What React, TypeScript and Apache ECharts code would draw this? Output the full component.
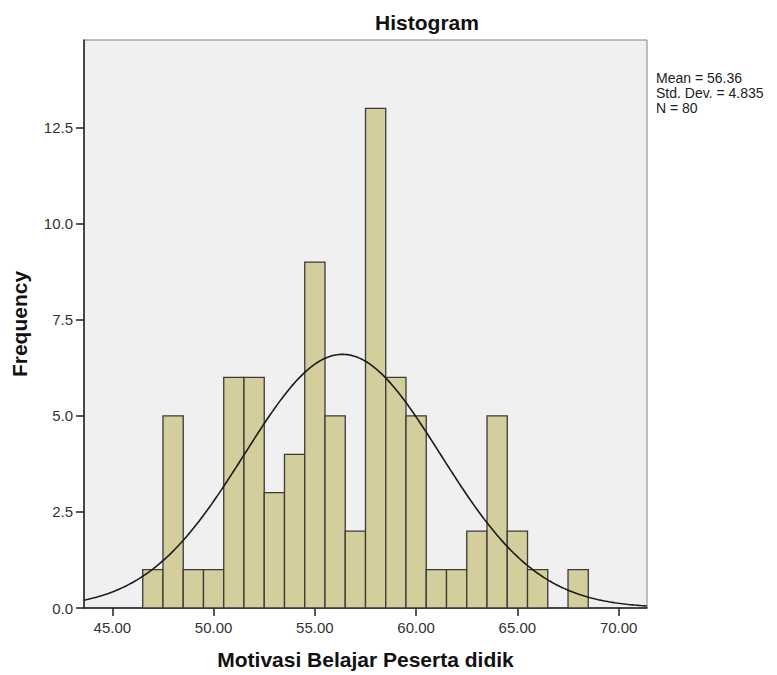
import React, { useEffect, useRef } from "react";
import * as echarts from "echarts";

const binCenters = [47, 48, 49, 50, 51, 52, 53, 54, 55, 56, 57, 58, 59, 60, 61, 62, 63, 64, 65, 66, 67, 68];
const binCounts = [1, 5, 1, 1, 6, 6, 3, 4, 9, 5, 2, 13, 6, 5, 1, 1, 2, 5, 2, 1, 0, 1];
const xTickValues = [45, 50, 55, 60, 65, 70];
const yTickValues = [0, 2.5, 5, 7.5, 10, 12.5];
const MEAN = 56.36;
const STD_DEV = 4.835;
const N = 80;
const BIN_WIDTH = 1;
const X_MIN = 43.6;
const X_MAX = 71.4;
const Y_MAX = 14.78;
const statLines = ["Mean = 56.36", "Std. Dev. = 4.835", "N = 80"];

const FONT = "'Liberation Sans', Arial, sans-serif";

function normalCurve(): number[][] {
  const pts: number[][] = [];
  const k = (N * BIN_WIDTH) / (STD_DEV * Math.sqrt(2 * Math.PI));
  for (let i = 0; i <= 278; i++) {
    const x = X_MIN + (i * (X_MAX - X_MIN)) / 278;
    const z = (x - MEAN) / STD_DEV;
    pts.push([x, k * Math.exp(-0.5 * z * z)]);
  }
  return pts;
}

export default function App() {
  const ref = useRef<HTMLDivElement>(null);
  useEffect(() => {
    document.body.style.margin = "0";
    if (!ref.current) return;
    const chart = echarts.init(ref.current, null, { renderer: "svg" });
    const barData = binCenters.map((c, i) => [c, binCounts[i]]);
    chart.setOption({
      animation: false,
      backgroundColor: "#ffffff",
      textStyle: { fontFamily: FONT },
      grid: {
        left: 84,
        top: 40,
        right: 130,
        bottom: 67,
        show: true,
        backgroundColor: "#f0f0f0",
        borderColor: "#808080",
        borderWidth: 1,
      },
      graphic: [
        {
          type: "text",
          x: 427,
          y: 22,
          style: {
            text: "Histogram",
            font: `bold 21px ${FONT}`,
            fill: "#111",
            textAlign: "center",
            textVerticalAlign: "middle",
          },
        },
        ...statLines.map((t, i) => ({
          type: "text",
          x: 656,
          y: 78 + i * 15,
          style: {
            text: t,
            font: `14px ${FONT}`,
            fill: "#222",
            textAlign: "left",
            textVerticalAlign: "middle",
          },
        })),
      ],
      xAxis: {
        type: "value",
        min: X_MIN,
        max: X_MAX,
        name: "Motivasi Belajar Peserta didik",
        nameLocation: "middle",
        nameGap: 41,
        nameTextStyle: { fontFamily: FONT, fontWeight: "bold", fontSize: 21, color: "#111" },
        axisLine: { show: true, onZero: false, lineStyle: { color: "#222", width: 1.5 } },
        axisTick: { show: true, length: 8, customValues: xTickValues, lineStyle: { color: "#222", width: 1.5 } },
        axisLabel: {
          customValues: xTickValues,
          margin: 12,
          fontSize: 15,
          color: "#333",
          fontFamily: FONT,
          formatter: (v: number) => v.toFixed(2),
        },
        splitLine: { show: false },
      },
      yAxis: {
        type: "value",
        min: 0,
        max: Y_MAX,
        name: "Frequency",
        nameLocation: "middle",
        nameGap: 54,
        nameTextStyle: { fontFamily: FONT, fontWeight: "bold", fontSize: 21, color: "#111" },
        axisLine: { show: true, onZero: false, lineStyle: { color: "#222", width: 1.5 } },
        axisTick: { show: true, length: 8, customValues: yTickValues, lineStyle: { color: "#222", width: 1.5 } },
        axisLabel: {
          customValues: yTickValues,
          margin: 11,
          fontSize: 15,
          color: "#333",
          fontFamily: FONT,
          formatter: (v: number) => v.toFixed(1),
        },
        splitLine: { show: false },
      },
      series: [
        {
          type: "custom",
          data: barData,
          z: 2,
          renderItem: (params: any, api: any) => {
            const x = api.value(0);
            const y = api.value(1);
            if (!y) return null;
            const p0 = api.coord([x - BIN_WIDTH / 2, 0]);
            const p1 = api.coord([x + BIN_WIDTH / 2, y]);
            return {
              type: "rect",
              shape: { x: p0[0], y: p1[1], width: p1[0] - p0[0], height: p0[1] - p1[1] },
              style: { fill: "#d3ce9b", stroke: "#3a3a3a", lineWidth: 1.3 },
            };
          },
        },
        {
          type: "line",
          data: normalCurve(),
          z: 3,
          showSymbol: false,
          symbol: "none",
          smooth: false,
          lineStyle: { color: "#1a1a1a", width: 1.6 },
        },
      ],
    });
    return () => chart.dispose();
  }, []);
  return <div ref={ref} style={{ width: 777, height: 675 }} />;
}
